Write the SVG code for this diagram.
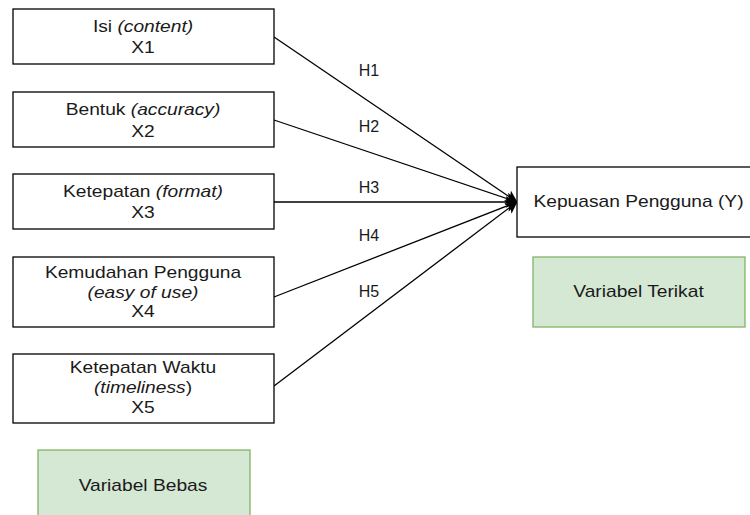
<svg xmlns="http://www.w3.org/2000/svg" width="750" height="515" viewBox="0 0 750 515">
<style>
.box{fill:#fff;stroke:#000;stroke-width:1.3}
.green{fill:#d5e8d4;stroke:#82b366;stroke-width:1.3}
text{font-family:"Liberation Sans",Arial,sans-serif;font-size:16px;fill:#1a1a1a;text-anchor:middle}
.i{font-style:italic}
.edge{stroke:#000;stroke-width:1.3;fill:none;marker-end:url(#arr)}
</style>
<defs>
<marker id="arr" viewBox="0 0 10 10" refX="9.5" refY="5" markerWidth="12" markerHeight="12" markerUnits="userSpaceOnUse" orient="auto">
<path d="M0,0 L10,5 L0,10 L2.5,5 Z" fill="#000"/>
</marker>
</defs>
<rect width="750" height="515" fill="#fff"/>
<g id="connectors">
<line class="edge" x1="274" y1="37" x2="517" y2="202"/>
<line class="edge" x1="274" y1="120" x2="517" y2="202"/>
<line class="edge" x1="274" y1="202" x2="517" y2="202"/>
<line class="edge" x1="274" y1="297" x2="517" y2="202"/>
<line class="edge" x1="274" y1="386" x2="517" y2="202"/>
<text x="369" y="76">H1</text>
<text x="369" y="132">H2</text>
<text x="369" y="193">H3</text>
<text x="369" y="241">H4</text>
<text x="369" y="297">H5</text>
</g>
<g id="x1">
<rect class="box" x="13" y="9" width="261" height="55"/>
<text transform="translate(143 32) scale(1.2 1)">Isi <tspan class="i">(content)</tspan></text>
<text transform="translate(143 53) scale(1.2 1)">X1</text>
</g>
<g id="x2">
<rect class="box" x="13" y="92" width="261" height="55"/>
<text transform="translate(143 115) scale(1.2 1)">Bentuk <tspan class="i">(accuracy)</tspan></text>
<text transform="translate(143 137) scale(1.2 1)">X2</text>
</g>
<g id="x3">
<rect class="box" x="13" y="174" width="261" height="55"/>
<text transform="translate(143 197) scale(1.2 1)">Ketepatan <tspan class="i">(format)</tspan></text>
<text transform="translate(143 218) scale(1.2 1)">X3</text>
</g>
<g id="x4">
<rect class="box" x="13" y="257" width="261" height="70"/>
<text transform="translate(143 278) scale(1.2 1)">Kemudahan Pengguna</text>
<text transform="translate(143 298) scale(1.2 1)" class="i">(easy of use)</text>
<text transform="translate(143 317) scale(1.2 1)">X4</text>
</g>
<g id="x5">
<rect class="box" x="13" y="354" width="261" height="69"/>
<text transform="translate(143 373) scale(1.2 1)">Ketepatan Waktu</text>
<text transform="translate(143 393) scale(1.2 1)"><tspan class="i">(timeliness</tspan>)</text>
<text transform="translate(143 413) scale(1.2 1)">X5</text>
</g>
<g id="bebas">
<rect class="green" x="38" y="450" width="212" height="75"/>
<text transform="translate(143 491) scale(1.2 1)">Variabel Bebas</text>
</g>
<g id="y">
<rect class="box" x="517" y="167" width="240" height="70"/>
<text transform="translate(638.5 207) scale(1.2 1)">Kepuasan Pengguna (Y)</text>
</g>
<g id="terikat">
<rect class="green" x="533" y="257" width="212" height="70"/>
<text transform="translate(638.5 297) scale(1.2 1)">Variabel Terikat</text>
</g>
</svg>
